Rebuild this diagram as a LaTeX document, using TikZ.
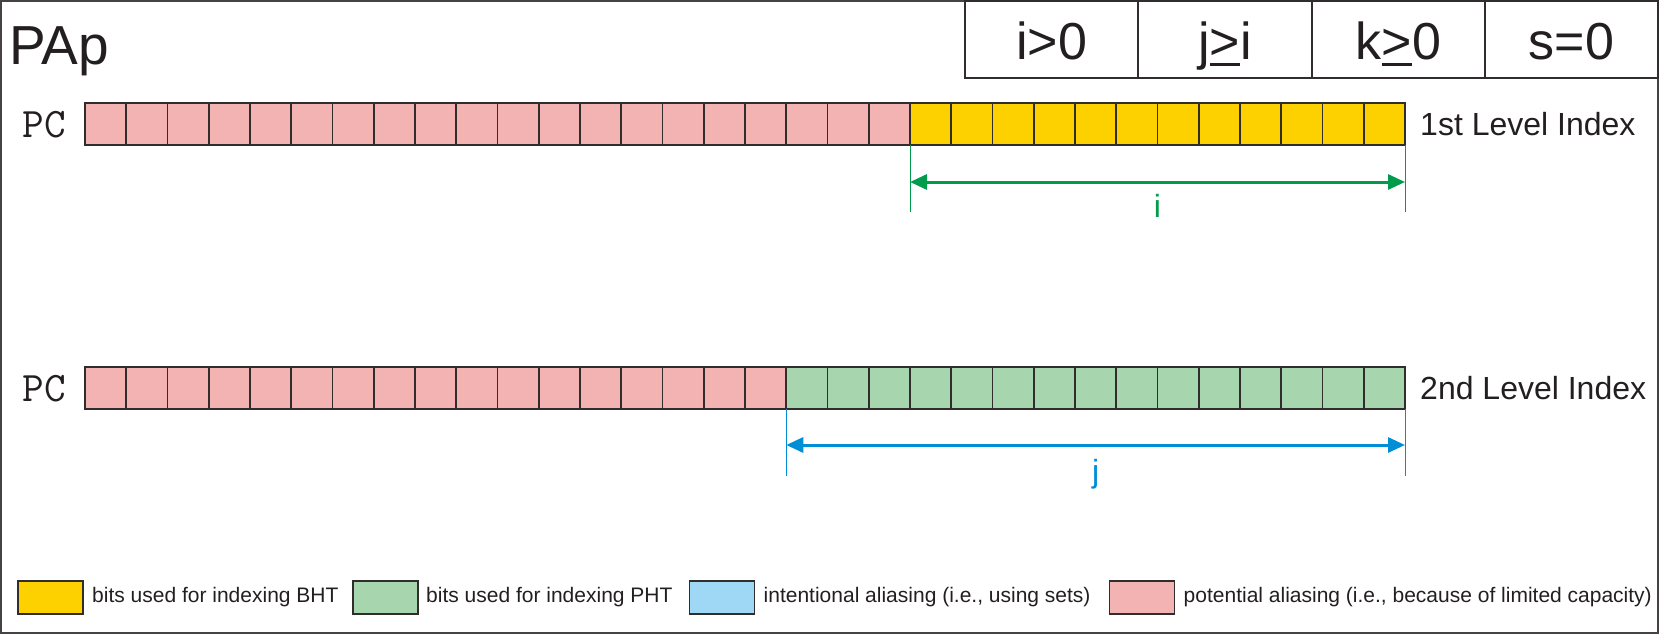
\documentclass[tikz,border=0pt]{standalone}
\usepackage{fontspec}
\setmainfont{Liberation Sans}
\usetikzlibrary{arrows.meta,calc}
\definecolor{ink}{RGB}{35,31,32}
\definecolor{linec}{RGB}{50,45,45}
\definecolor{bordc}{RGB}{70,66,66}
\definecolor{pinkc}{RGB}{243,179,179}
\definecolor{yellowc}{RGB}{253,209,0}
\definecolor{greenc}{RGB}{166,213,174}
\definecolor{bluec}{RGB}{158,216,245}
\definecolor{arrgreen}{RGB}{0,156,75}
\definecolor{arrblue}{RGB}{0,142,214}
\newcommand\geu{\mbox{\rlap{\rule[-0.13em]{0.584em}{0.06em}}>}}
\begin{document}
\begin{tikzpicture}[x=1pt,y=-1pt,
  cell/.style={draw=linec, line width=1.9pt, minimum width=41.25pt, minimum height=42pt, inner sep=0pt, outer sep=0pt},
  hdr/.style={draw=linec, line width=1.8pt, minimum height=77pt, inner sep=0pt, outer sep=0pt, text height=40pt, text depth=0pt, font=\fontsize{52}{52}\selectfont, text=ink},
  pc/.style={font=\ttfamily\fontsize{42}{42}\selectfont, text=ink, inner sep=0pt},
  lvl/.style={anchor=west, inner sep=0pt, font=\fontsize{32}{32}\selectfont, text=ink},
  guide/.style={draw=#1, line width=0.9pt},
  dimarrow/.style={draw=#1, line width=3pt, arrows={Triangle[length=17pt,width=15pt]-Triangle[length=17pt,width=15pt]}},
  dimlabel/.style={inner sep=0pt, font=\fontsize{32}{32}\selectfont},
  legbox/.style={draw=linec, line width=1.9pt, minimum width=65pt, minimum height=33pt, inner sep=0pt, outer sep=0pt},
  legtext/.style={anchor=west, inner sep=0pt, font=\fontsize{21}{21}\selectfont, text=ink}]
\useasboundingbox (0,0) rectangle (1659,634);
% outer border
\draw[line width=2pt, draw=bordc] (1,1) rectangle (1658,633);
% title
\node[anchor=base west, inner sep=0pt, font=\fontsize{55}{55}\selectfont, text=ink] (title) at (9,65) {PAp};
% header boxes
\node[hdr, minimum width=173pt] (h1) at (1051.5,39.5) {i>0};
\node[hdr, minimum width=174pt] (h2) at (1225,39.5) {j\geu i};
\node[hdr, minimum width=173pt] (h3) at (1398.5,39.5) {k\geu0};
\node[hdr, minimum width=173pt] (h4) at (1571.5,39.5) {s=0};
% row 1
\node[pc] (pc1) at (44,125) {PC};
\foreach \i in {0,...,19}{
  \pgfmathsetmacro\cx{85+41.25*(\i+0.5)}
  \node[cell, fill=pinkc] (r1c\i) at (\cx,124) {};
}
\foreach \i in {20,...,31}{
  \pgfmathsetmacro\cx{85+41.25*(\i+0.5)}
  \node[cell, fill=yellowc] (r1c\i) at (\cx,124) {};
}
\node[lvl] (lvl1) at ($(r1c31.east)+(15,0)$) {1st Level Index};
\draw[guide=arrgreen] (r1c20.south west) -- ($(r1c20.south west)+(0,67)$);
\draw[guide=arrgreen] (r1c31.south east) -- ($(r1c31.south east)+(0,67)$);
\draw[dimarrow=arrgreen] ($(r1c20.south west)+(0,37)$) -- ($(r1c31.south east)+(0,37)$);
\node[dimlabel, text=arrgreen] (li) at ($(r1c20.south west)!0.5!(r1c31.south east)+(0,61)$) {i};
% row 2
\node[pc] (pc2) at (44,389) {PC};
\foreach \i in {0,...,16}{
  \pgfmathsetmacro\cx{85+41.25*(\i+0.5)}
  \node[cell, fill=pinkc] (r2c\i) at (\cx,388) {};
}
\foreach \i in {17,...,31}{
  \pgfmathsetmacro\cx{85+41.25*(\i+0.5)}
  \node[cell, fill=greenc] (r2c\i) at (\cx,388) {};
}
\node[lvl] (lvl2) at ($(r2c31.east)+(15,0)$) {2nd Level Index};
\draw[guide=arrblue] (r2c17.south west) -- ($(r2c17.south west)+(0,67)$);
\draw[guide=arrblue] (r2c31.south east) -- ($(r2c31.south east)+(0,67)$);
\draw[dimarrow=arrblue] ($(r2c17.south west)+(0,36)$) -- ($(r2c31.south east)+(0,36)$);
\node[dimlabel, text=arrblue] (lj) at ($(r2c17.south west)!0.5!(r2c31.south east)+(0,65)$) {j};
% legend
\node[legbox, fill=yellowc] (k1) at (50.5,597.5) {};
\node[legtext] (t1) at ($(k1.east)+(9,0)$) {bits used for indexing BHT};
\node[legbox, fill=greenc] (k2) at (385.5,597.5) {};
\node[legtext] (t2) at ($(k2.east)+(8,0)$) {bits used for indexing PHT};
\node[legbox, fill=bluec] (k3) at (722,597.5) {};
\node[legtext] (t3) at ($(k3.east)+(9,0)$) {intentional aliasing (i.e., using sets)};
\node[legbox, fill=pinkc] (k4) at (1142,597.5) {};
\node[legtext] (t4) at ($(k4.east)+(9,0)$) {potential aliasing (i.e., because of limited capacity)};
\end{tikzpicture}
\end{document}
